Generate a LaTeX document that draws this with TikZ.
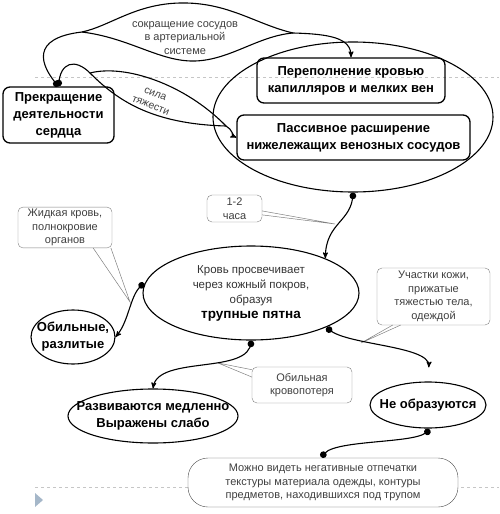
\documentclass[tikz,border=0pt]{standalone}
\usepackage{fontspec}
\setmainfont{Liberation Sans}
\usepackage{tikz}
\usetikzlibrary{arrows,shapes}
\definecolor{slidemark}{HTML}{A5B7C9}

\begin{document}
\begin{tikzpicture}[x=1pt,y=-1pt,
    box/.style={draw,line width=1.3pt,rounded corners=7pt,align=center,inner sep=2pt,
        font=\bfseries\fontsize{13}{17}\selectfont},
    oval/.style={draw,ellipse,line width=1.1pt,align=center,inner xsep=-20pt,inner ysep=0pt,
        font=\bfseries\fontsize{13}{17}\selectfont},
    lbl/.style={align=center,text=black!75,font=\fontsize{11}{13.5}\selectfont},
    note/.style={lbl,draw=gray,fill=white,rounded corners=5pt,inner sep=2pt,outer sep=0pt},
    tip/.style={draw=gray,line width=0.5pt},
    link/.style={line width=1.1pt,*-stealth'},
    guide/.style={gray!45,dashed,line width=0.6pt}]
    \useasboundingbox (0,0) rectangle (499,514);
    \draw[guide] (35,77) -- (499,77);
    \draw[guide] (35,487) -- (499,487);
    \fill[slidemark] (35,493) -- (43,500) -- (35,507) -- cycle;

    \node[box,minimum width=111pt,minimum height=56pt] (A) at (58.5,115) {Прекращение\\деятельности\\сердца};
    \node[oval,minimum width=280pt,minimum height=150pt] (E1) at (353,117) {};
    \node[box,minimum width=188pt,minimum height=45pt] (B) at (351,80.5) {Переполнение кровью\\капилляров и мелких вен};
    \node[box,minimum width=233pt,minimum height=45pt] (C) at (353.5,137.5) {Пассивное расширение\\нижележащих венозных сосудов};

    \node[lbl] (S) at (185,38) {сокращение сосудов\\в артериальной\\системе};
    \node[lbl,rotate=-22,inner sep=0pt,font=\fontsize{10.5}{12.5}\selectfont] (G) at (153,100) {сила\\тяжести};

    \coordinate (s1) at (82,32);
    \coordinate (s2) at (293,33);
    \coordinate (g1) at (90,73);
    \coordinate (g2) at (226,126);
    \draw[link] (A.north) .. controls (40,65) and (30,38) .. (s1)
        .. controls (110,26) and (135,4) .. (180,3)
        .. controls (228,2) and (255,24) .. (s2)
        .. controls (330,34) and (351,38) .. (B.north);
    \draw[line width=1.1pt] (s1) .. controls (130,38) and (160,62) .. (195,61)
        .. controls (230,60) and (258,36) .. (s2);
    \draw[link] (A.north) .. controls (60,62) and (75,58) .. (g1)
        .. controls (125,64) and (185,84) .. (g2)
        .. controls (232,129) and (233,136) .. (C.west);
    \draw[line width=1.1pt] (g1) .. controls (116,99) and (150,124) .. (g2);

    \node[oval,minimum width=216pt,minimum height=94pt,text=black!80,
        font=\mdseries\fontsize{11.5}{15}\selectfont] (E2) at (251,293)
        {Кровь просвечивает\\через кожный покров,\\образуя\\\textcolor{black}{\bfseries\fontsize{13.5}{16}\selectfont трупные пятна}};
    \node[oval,minimum width=84pt,minimum height=54pt] (O) at (73,337) {Обильные,\\разлитые};
    \node[oval,minimum width=170pt,minimum height=54pt] (R) at (153,416) {Развиваются медленно\\Выражены слабо};
    \node[oval,minimum width=116pt,minimum height=46pt] (N) at (428,405) {Не образуются};

    \node[note,minimum width=55pt,minimum height=27pt] (T) at (234.5,208.5) {1-2\\часа};
    \node[note,minimum width=94pt,minimum height=39pt] (L1) at (65,227.5) {Жидкая кровь,\\полнокровие\\органов};
    \node[note,minimum width=100pt,minimum height=36pt] (L2) at (302,385) {Обильная\\кровопотеря};
    \node[note,minimum width=113pt,minimum height=57pt] (L3) at (433.5,296.5) {Участки кожи,\\прижатые\\тяжестью тела,\\одеждой};
    \node[note,draw=black!70,rounded corners=20pt,minimum width=270pt,minimum height=49pt] (M) at (323,482.5)
        {Можно видеть негативные отпечатки\\текстуры материала одежды, контуры\\предметов, находившихся под трупом};

    \coordinate (p1) at (335,224);
    \coordinate (p2) at (130,302);
    \coordinate (p3) at (218,363);
    \coordinate (p4) at (361,343);
    \draw[tip] (T.-5) -- (p1) -- (T.-13);
    \draw[tip] (L1.-36) -- (p2) -- (L1.-24);
    \draw[tip] (L2.163) -- (p3) -- (L2.171);
    \draw[tip] (L3.215) -- (p4) -- (L3.221);

    \draw[link] (E1.south) .. controls (352,222) and (326,222) .. (E2.25);
    \draw[link] (E2.175) .. controls (130,292) and (130,320) .. (O.east);
    \draw[link] (E2.south) .. controls (250,375) and (158,355) .. (R.north);
    \draw[link,shorten >=14pt] (E2.336) .. controls (340,345) and (430,345) .. (N.north);
    \draw[line width=1.1pt,*-*] (N.south) .. controls (425,445) and (325,438) .. (M.north);
\end{tikzpicture}
\end{document}
